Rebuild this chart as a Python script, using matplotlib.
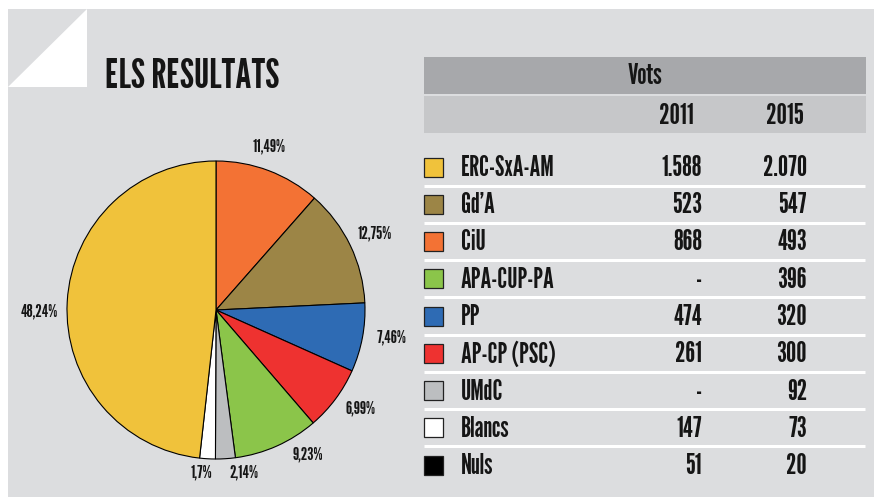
import matplotlib
matplotlib.use("Agg")
import matplotlib.pyplot as plt
from matplotlib.patches import Rectangle, Polygon
import numpy as np

# ---------------- data ----------------
title = "ELS RESULTATS"
header_top = "Vots"
years = ["2011", "2015"]

parties = ["ERC-SxA-AM", "Gd’A", "CiU", "APA-CUP-PA", "PP", "AP-CP (PSC)", "UMdC", "Blancs", "Nuls"]
votes_2011 = ["1.588", "523", "868", "-", "474", "261", "-", "147", "51"]
votes_2015 = ["2.070", "547", "493", "396", "320", "300", "92", "73", "20"]
party_colors = ["#f0c23b", "#9c8546", "#f37234", "#8bc54a", "#2e6bb4", "#ee3230", "#bcbec0", "#ffffff", "#000000"]

pie_parties = ["CiU", "Gd’A", "PP", "AP-CP (PSC)", "APA-CUP-PA", "UMdC", "Blancs", "ERC-SxA-AM"]
pie_pct = [11.49, 12.75, 7.46, 6.99, 9.23, 2.14, 1.7, 48.24]
pie_labels = ["11,49%", "12,75%", "7,46%", "6,99%", "9,23%", "2,14%", "1,7%", "48,24%"]

# ---------------- style / layout ----------------
W, H = 874, 497
FONT = "League Gothic"
BG = "#dcdddf"
TXT = "#151515"

fig = plt.figure(figsize=(W / 100, H / 100), dpi=100)
fig.patch.set_facecolor("white")

ax = fig.add_axes([0, 0, 1, 1])
ax.set_xlim(0, W)
ax.set_ylim(H, 0)
ax.axis("off")

# grey panel and white corner triangle
ax.add_patch(Rectangle((8, 9), W - 8, H - 9, facecolor=BG, edgecolor="none"))
ax.add_patch(Polygon([(8, 87), (87, 9), (87, 87)], closed=True, facecolor="white", edgecolor="none"))

ax.text(105, 88, title, family=FONT, fontsize=30, color=TXT, ha="left", va="baseline")

# table header bands
tx0, tx1 = 424, 866
ax.add_patch(Rectangle((tx0, 57), tx1 - tx0, 37, facecolor="#a7a8ab", edgecolor="none"))
ax.add_patch(Rectangle((tx0, 96), tx1 - tx0, 37, facecolor="#c6c7c9", edgecolor="none"))
ax.text(645, 76, header_top, family=FONT, fontsize=21, color=TXT, ha="center", va="center")
ax.text(694, 116, years[0], family=FONT, fontsize=21, color=TXT, ha="right", va="center")
ax.text(804, 116, years[1], family=FONT, fontsize=21, color=TXT, ha="right", va="center")

# table rows
row0, step = 167, 37.25
for i, (p, a, b, c) in enumerate(zip(parties, votes_2011, votes_2015, party_colors)):
    y = row0 + i * step
    ax.add_patch(Rectangle((424, y - 9.5), 19, 19, facecolor=c, edgecolor="#222222", linewidth=0.9))
    ax.text(461, y + 1, p, family=FONT, fontsize=20, color=TXT, ha="left", va="center")
    ax.text(702, y + 1, a, family=FONT, fontsize=20.5, color=TXT, ha="right", va="center")
    ax.text(807, y + 1, b, family=FONT, fontsize=20.5, color=TXT, ha="right", va="center")
    if i < len(parties) - 1:
        ys = y + step / 2
        ax.plot([424, 865], [ys, ys], color="white", linewidth=2.2, solid_capstyle="butt")

# ---------------- pie ----------------
cx, cy, R = 216, 310, 149
pax = fig.add_axes([(cx - R) / W, (H - cy - R) / H, 2 * R / W, 2 * R / H])

color_of = dict(zip(parties, party_colors))
wedges, _ = pax.pie(pie_pct, colors=[color_of[p] for p in pie_parties], startangle=90, counterclock=False,
                    radius=1, wedgeprops=dict(edgecolor="black", linewidth=0.8))
pax.set_xlim(-1, 1)
pax.set_ylim(-1, 1)
pax.set_aspect("equal")
pax.axis("off")

# label nudges (data units) for readability, as in the original
nudges = [(-0.05, 0.01), (0.02, 0.01), (0.04, 0.03), (0.04, 0.03), (0.14, 0.09), (0.115, 0.07), (-0.03, 0.07), (-0.03, -0.076)]
for w, lab, (dx, dy) in zip(wedges, pie_labels, nudges):
    mid = np.deg2rad((w.theta1 + w.theta2) / 2)
    x = 1.16 * np.cos(mid) + dx
    y = 1.16 * np.sin(mid) + dy
    pax.text(x, y, lab, family=FONT, fontsize=13, color=TXT, ha="center", va="center", clip_on=False)

fig.savefig("out.png", dpi=100, facecolor=fig.get_facecolor())
